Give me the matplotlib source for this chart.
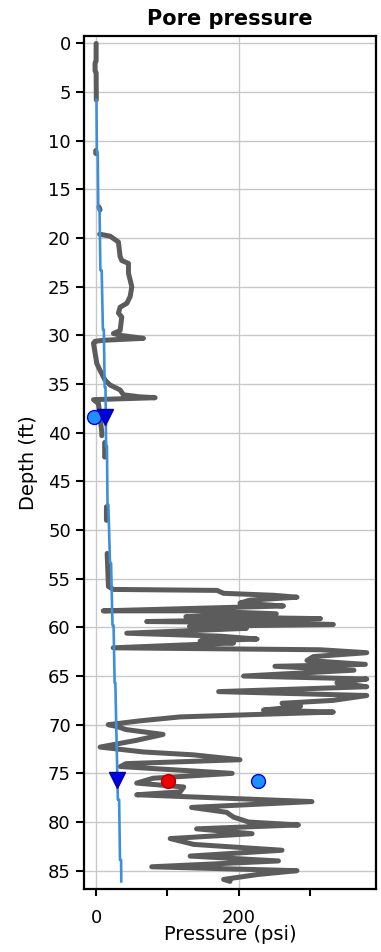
import numpy as np
import matplotlib
matplotlib.use("Agg")
import matplotlib.pyplot as plt
from matplotlib.ticker import MultipleLocator, FixedLocator

nan = np.nan

# ── Data ────────────────────────────────────────────────────────────────────
# measured pore pressure profile (gray); nan marks gaps in the log
pore_depth = [0, 1.8, 2.0, 2.8, 3.0, 5.8, nan,
              11.0, 11.3, nan,
              16.8, 17.1, nan,
              19.6, 19.8, 20.4, 21.9, 22.3, 22.6, 23.6, 25.0, 26.0, 26.7,
              27.1, 27.7, 28.1, 29.5, 29.8, 30.0, 30.3, 30.5, 30.6, 30.8, 32.0,
              32.9, 33.6, 34.6, 35.1, 35.6, 36.1, 36.3, 36.4, 36.5, 36.6, 37.0,
              38.0, 40.0, 40.3, nan,
              41.0, 42.5, nan, 47.6, 49.0, nan, 52.4, 55.8,
              56.1, 56.2, 56.5, 56.7, 56.9, 57.2, 57.5, 57.8, 58.0, 58.3, 58.3,
              58.6, 58.9, 59.1, 59.4, 59.5, 59.7, 59.9, 60.1, 60.6, 60.9, 61.2,
              61.4, 61.6, 62.1, 62.3, 62.6, 63.0, 63.4, 63.8, 64.0, 64.4, 65.0,
              65.3, 65.7, 66.1, 66.6, 67.0, 67.5, 67.8, 68.1, 68.5, 68.7, 69.2,
              69.6, 70.0, 70.2, 70.5, 71.0, 71.6, 72.3, 72.8, 73.1, 73.6, 74.0,
              74.3, 75.0, 75.5, 76.0, 76.4, 76.9, 77.2, 77.9, 78.5, 79.0, 79.5,
              80.0, 80.3, 80.7, 81.2, 81.7, 82.3, 82.9, 83.5, 84.0, 84.6, 85.0,
              85.4, 85.9, 86.1]
pore_psi = [0, 0, -1.5, -1.5, 0, 0.3, nan,
            -0.5, -0.5, nan,
            4.0, 5.5, nan,
            5.0, 19.7, 31.3, 33.7, 36, 45.4, 45.4, 50.1, 47.8, 43.1,
            33.7, 31.3, 36, 33.7, 24.3, 35, 66.5, 10, -1.4, -3.7, -1,
            1, 5.6, 12.6, 19.7, 33.7, 38.4, 60, 82.9, 40, -3.7, 3.3,
            5, 8, 8, nan,
            12, 12, nan, 14.5, 14.5, nan, 15.5, 17.3,
            24.3, 169.6, 179, 249, 282, 216, 202, 263, 160, 10, 136,
            253, 126, 315, 71, 230, 333, 131, 211, 43, 174, 226,
            146, 193, 24, 315, 380, 305, 296, 378, 251, 362, 207,
            380, 338, 380, 172, 380, 333, 261, 287, 235, 333, 118,
            62, 17, 30, 42, 94, 57, 5.6, 66, 137, 202, 42,
            34, 191, 80, 57, 123, 118, 57, 303, 134, 183, 193,
            214, 284, 141, 219, 104, 137, 261, 132, 256, 78, 282,
            226, 179, 188]

# hydrostatic trend (blue)
hydro_depth = [5.8, 11.2, 11.2, 17.0, 17.0, 23.3, 23.3, 29.4, 29.4, 35.3, 35.3,
               41.4, 41.4, 47.4, 47.4, 53.4, 53.4, 59.8, 59.8, 65.7, 65.7, 77.7,
               77.7, 83.9, 83.9, 86.1]
hydro_psi = [0.5, 1.0, 2.3, 3.0, 4.8, 6.0, 7.8, 9.5, 10.8, 12.0, 13.2,
             14.0, 15.2, 16.0, 17.2, 19.5, 21.0, 23.0, 24.5, 26.0, 27.0, 30.5,
             32.3, 33.5, 35.1, 35.3]

# point measurements
tri_depth = [38.4, 75.7]
tri_psi = [12.6, 29.0]
light_depth = [38.4, 75.8]
light_psi = [-2.3, 227.0]
red_depth = [75.8]
red_psi = [100.7]

# ── Figure ──────────────────────────────────────────────────────────────────
fig = plt.figure(figsize=(3.81, 9.52), dpi=100)
ax = fig.add_axes([0.2205, 0.066, 0.7665, 0.896])

ax.plot(pore_psi, pore_depth, color="#5c5c5c", lw=3.6,
        solid_capstyle="round", solid_joinstyle="round", zorder=2)
ax.plot(hydro_psi, hydro_depth, color="#3d8fd9", lw=1.9, zorder=3)

ax.plot(light_psi, light_depth, "o", ms=10, mfc="#1e90ff", mec="#0000ee",
        mew=1.0, zorder=5)
ax.plot(tri_psi, tri_depth, "v", ms=11, mfc="#0000dd", mec="#0000aa",
        mew=1.0, zorder=5)
ax.plot(red_psi, red_depth, "o", ms=10, mfc="#ee0000", mec="#b00000",
        mew=1.0, zorder=5)

ax.set_xlim(-17, 393)
ax.set_ylim(86.9, -0.75)

ax.yaxis.set_major_locator(MultipleLocator(5))
ax.xaxis.set_major_locator(FixedLocator([0, 200]))
ax.xaxis.set_minor_locator(FixedLocator([100, 300]))

ax.grid(True, which="major", color="#c8c8c8", lw=1.0, zorder=0)
ax.set_axisbelow(True)

ax.tick_params(axis="both", which="both", direction="out", length=6,
               width=1.5, labelsize=13, colors="black")
ax.tick_params(axis="x", which="both", length=5, pad=9)

for sp in ax.spines.values():
    sp.set_linewidth(1.6)
    sp.set_color("black")

ax.set_title("Pore pressure", fontsize=15, fontweight="bold", pad=8)
ax.set_xlabel("Pressure (psi)", fontsize=14, labelpad=-1)
ax.set_ylabel("Depth (ft)", fontsize=14, labelpad=7)

fig.savefig("out.png", dpi=100)
